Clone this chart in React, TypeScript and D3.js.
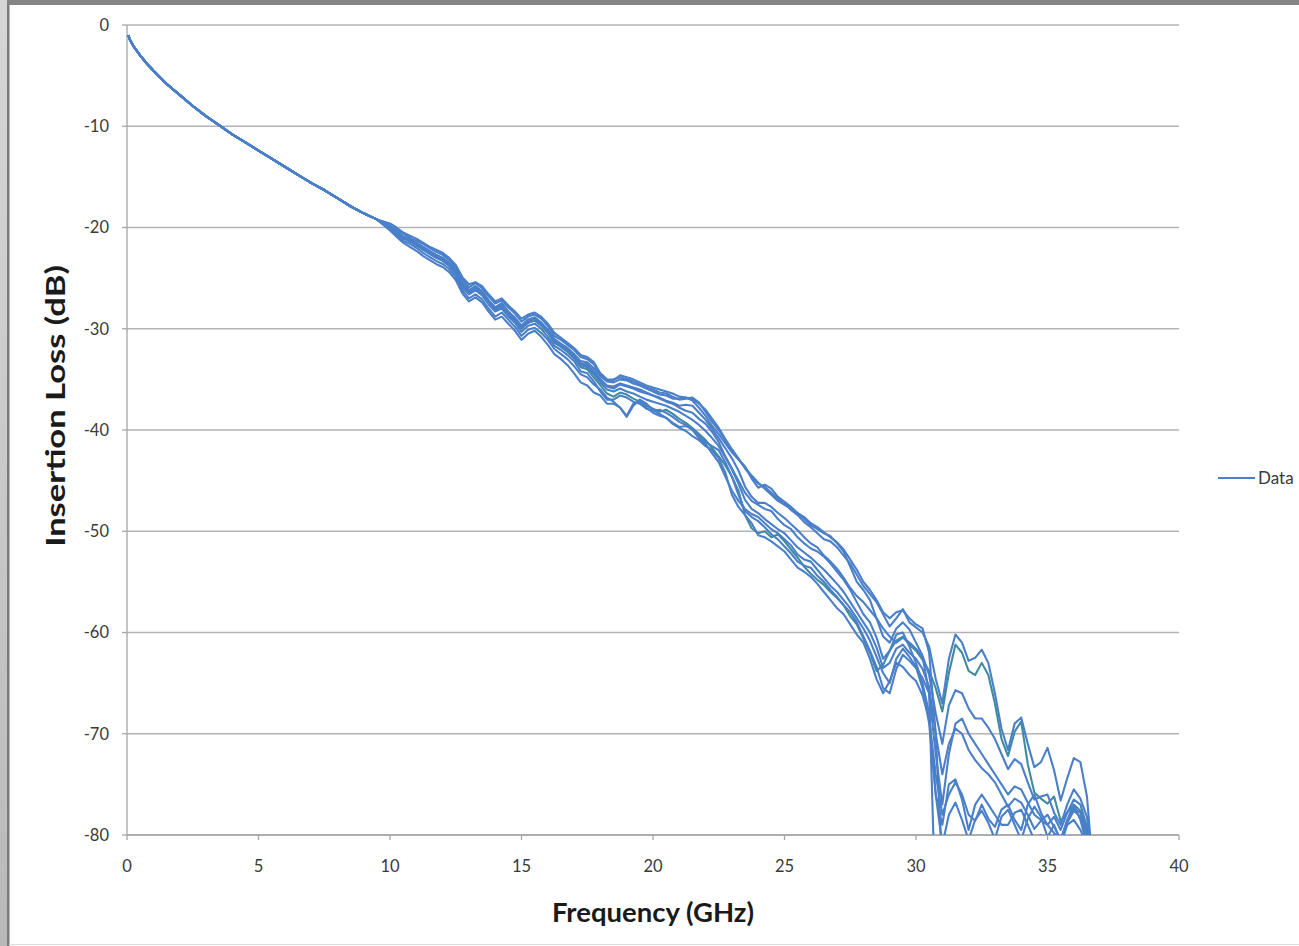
import React from "react";
import * as d3 from "d3";

// ---------- data ----------
const xTicks = [0, 5, 10, 15, 20, 25, 30, 35, 40];
const yTicks = [0, -10, -20, -30, -40, -50, -60, -70, -80];

// shared low-frequency part (all traces coincide)
const lowFreqs = [0.05, 0.1, 0.25, 0.5, 0.75, 1, 1.5, 2, 2.5, 3, 3.5, 4, 4.5, 5, 5.5, 6, 6.5, 7, 7.5, 8, 8.5, 9, 9.25, 9.5];
const lowLoss = [-1.0, -1.4, -2.1, -3.0, -3.8, -4.5, -5.8, -6.9, -8.0, -9.0, -9.9, -10.8, -11.6, -12.4, -13.2, -14.0, -14.8, -15.6, -16.3, -17.1, -17.9, -18.6, -18.9, -19.2];

const hiFreqs = [
  10, 10.25, 10.5, 10.75, 11, 11.25, 11.5, 11.75,
  12, 12.25, 12.5, 12.75, 13, 13.25, 13.5, 13.75,
  14, 14.25, 14.5, 14.75, 15, 15.25, 15.5, 15.75,
  16, 16.25, 16.5, 16.75, 17, 17.25, 17.5, 17.75,
  18, 18.25, 18.5, 18.75, 19, 19.25, 19.5, 19.75,
  20, 20.25, 20.5, 20.75, 21, 21.25, 21.5, 21.75,
  22, 22.25, 22.5, 22.75, 23, 23.25, 23.5, 23.75,
  24, 24.25, 24.5, 24.75, 25, 25.25, 25.5, 25.75,
  26, 26.25, 26.5, 26.75, 27, 27.25, 27.5, 27.75,
  28, 28.25, 28.5, 28.75, 29, 29.25, 29.5, 29.75,
  30, 30.25, 30.5, 30.75, 31, 31.25, 31.5, 31.75,
  32, 32.25, 32.5, 32.75, 33, 33.25, 33.5, 33.75,
  34, 34.25, 34.5, 34.75, 35, 35.25, 35.5, 35.75,
  36, 36.25, 36.5, 36.75,
];

const trace1 = [
  -19.6, -20.0, -20.5, -20.8, -21.1, -21.5, -21.9, -22.2,
  -22.5, -23.0, -23.7, -24.9, -25.6, -25.4, -25.8, -26.6,
  -27.3, -27.0, -27.7, -28.3, -29.0, -28.6, -28.4, -28.8,
  -29.5, -30.4, -30.9, -31.4, -31.9, -32.6, -32.8, -33.3,
  -34.4, -35.0, -35.1, -34.6, -34.8, -35.0, -35.3, -35.6,
  -35.8, -36.0, -36.2, -36.4, -36.7, -36.8, -37.0, -37.4,
  -38.0, -38.9, -39.8, -40.9, -41.9, -42.8, -43.8, -44.6,
  -45.3, -45.6, -46.2, -46.8, -47.2, -47.9, -48.4, -49.1,
  -49.6, -50.2, -50.8, -51.0, -51.6, -52.4, -53.2, -54.3,
  -55.4, -56.2, -57.0, -58.2, -59.4, -58.6, -57.7, -59.0,
  -59.5, -60.0, -61.4, -64.6, -67.0, -62.6, -60.2, -61.0,
  -62.8, -62.5, -61.7, -63.0, -66.0, -69.5, -71.6, -69.0,
  -68.4, -71.0, -73.3, -72.8, -71.4, -73.6, -76.6, -74.4,
  -72.4, -72.8, -76.2, -84.0,
];

const trace2 = [
  -20.0, -20.5, -21.0, -21.3, -21.7, -22.1, -22.5, -22.9,
  -23.2, -23.7, -24.4, -25.7, -26.4, -26.0, -26.5, -27.4,
  -28.2, -27.8, -28.6, -29.2, -30.0, -29.4, -29.2, -29.7,
  -30.4, -31.4, -31.8, -32.3, -32.9, -33.8, -34.0, -34.8,
  -35.6, -36.4, -36.7, -36.3, -36.5, -36.9, -37.2, -37.6,
  -37.9, -38.2, -38.0, -38.4, -38.9, -39.3, -39.8, -40.4,
  -41.0, -41.8, -42.6, -43.5, -44.6, -46.0, -48.4, -49.7,
  -50.2, -50.0, -50.6, -50.3, -51.0, -51.8, -52.6, -53.5,
  -54.2, -54.8, -55.3, -56.0, -56.6, -57.3, -58.4, -59.2,
  -60.6, -62.0, -63.8, -63.2, -61.8, -60.8, -60.4, -61.2,
  -61.8, -62.7, -63.8, -65.5, -67.8, -64.0, -61.2, -62.0,
  -63.8, -64.2, -63.0, -64.2, -67.0, -70.5, -72.2, -69.8,
  -68.8, -73.0, -75.8, -76.4, -76.9, -76.2, -78.6, -77.8,
  -77.0, -77.6, -79.6, -84.0,
];

const trace3 = [
  -19.9, -20.3, -20.9, -21.2, -21.7, -21.9, -22.3, -22.7,
  -23.0, -23.5, -24.2, -25.4, -26.2, -25.8, -26.3, -27.2,
  -27.9, -27.5, -28.3, -28.9, -29.7, -29.1, -28.9, -29.4,
  -30.1, -31.0, -31.5, -31.9, -32.5, -33.2, -33.3, -33.9,
  -34.7, -35.2, -35.3, -35.0, -35.1, -35.4, -35.6, -35.9,
  -36.2, -36.5, -36.6, -36.9, -36.9, -36.8, -37.1, -37.8,
  -38.6, -39.6, -40.4, -41.3, -42.2, -42.9, -43.6, -44.8,
  -45.7, -45.4, -45.8, -46.6, -47.1, -47.6, -48.2, -48.8,
  -49.4, -49.8, -50.2, -50.5, -51.2, -52.0, -53.5, -55.0,
  -55.8, -56.8, -58.6, -60.4, -61.0, -59.6, -59.0, -59.7,
  -61.0, -62.3, -64.2, -68.0, -71.0, -67.2, -65.7, -66.0,
  -67.5, -68.5, -68.5, -69.4, -70.5, -72.0, -73.5, -72.5,
  -73.0, -74.8, -76.5, -76.2, -76.0, -77.8, -79.0, -77.0,
  -75.5, -76.4, -78.2, -84.0,
];

const trace4 = [
  -20.2, -20.7, -21.3, -21.6, -22.0, -22.5, -22.9, -23.3,
  -23.6, -24.1, -24.9, -26.2, -27.0, -26.6, -27.1, -28.0,
  -28.8, -28.4, -29.1, -29.8, -30.7, -30.1, -29.9, -30.4,
  -31.1, -32.0, -32.5, -33.0, -33.7, -34.5, -34.8, -35.5,
  -36.0, -36.8, -37.2, -37.8, -38.6, -37.4, -37.2, -37.8,
  -38.3, -38.6, -38.8, -39.3, -39.7, -39.6, -39.9, -40.6,
  -41.2, -41.6, -42.0, -43.2, -44.6, -46.4, -48.0, -48.6,
  -49.0, -49.6, -50.3, -50.8, -51.5, -52.2, -53.0, -53.4,
  -53.6, -54.4, -55.0, -55.8, -56.5, -57.3, -58.0, -59.0,
  -60.4, -61.8, -63.4, -65.5, -66.0, -63.6, -62.2, -62.8,
  -63.5, -64.5, -66.0, -72.0, -77.0, -72.0, -69.0, -68.5,
  -70.0, -71.0, -72.0, -73.0, -74.0, -75.0, -76.0, -75.2,
  -75.5, -76.8, -78.0, -78.5, -79.0, -79.8, -80.5, -78.5,
  -77.0, -78.5, -81.0, -85.0,
];

const trace5 = [
  -19.9, -20.4, -20.9, -21.1, -21.5, -21.9, -22.3, -22.7,
  -23.0, -23.5, -24.2, -25.5, -26.2, -25.8, -26.3, -27.2,
  -27.9, -27.5, -28.3, -29.2, -29.7, -29.1, -28.9, -29.4,
  -30.1, -31.1, -31.5, -32.0, -32.6, -33.4, -33.5, -34.2,
  -35.0, -35.6, -35.7, -35.4, -35.6, -35.8, -36.0, -36.3,
  -36.6, -36.9, -37.2, -37.4, -37.8, -38.1, -38.3, -38.9,
  -39.4, -40.2, -41.2, -42.6, -43.8, -45.0, -46.2, -47.0,
  -47.4, -47.8, -48.0, -48.8, -49.4, -49.8, -50.6, -51.2,
  -51.7, -52.0, -52.5, -53.2, -54.0, -54.8, -55.8, -57.0,
  -58.2, -59.0, -60.5, -62.6, -61.8, -60.2, -60.0, -61.4,
  -63.0, -65.0, -68.0, -76.0, -79.0, -75.0, -74.5, -76.5,
  -79.5, -77.0, -76.0, -77.0, -78.0, -79.0, -79.0, -77.8,
  -77.5, -79.0, -80.5, -80.0, -81.0, -80.0, -81.0, -79.0,
  -78.5, -79.5, -81.0, -85.0,
];

const trace6 = [
  -20.0, -20.5, -21.0, -21.3, -21.7, -22.1, -22.5, -22.9,
  -23.2, -23.7, -24.4, -25.7, -26.4, -26.1, -26.6, -27.4,
  -28.1, -27.7, -28.5, -29.1, -29.9, -29.3, -29.1, -29.6,
  -30.3, -31.3, -31.7, -32.1, -32.7, -33.5, -33.6, -34.3,
  -35.1, -35.7, -35.9, -35.5, -35.7, -35.9, -36.2, -36.4,
  -36.6, -36.8, -37.1, -37.3, -37.6, -37.5, -37.6, -38.3,
  -39.0, -39.9, -40.8, -41.8, -42.8, -44.0, -45.6, -46.6,
  -47.2, -47.2, -47.6, -48.2, -48.7, -49.3, -49.9, -50.6,
  -51.2, -51.6, -52.4, -53.0, -53.7, -54.6, -55.6, -56.4,
  -57.0, -57.8, -58.6, -59.6, -60.4, -61.0, -60.5, -61.0,
  -61.6, -62.4, -66.0, -88.0, -92.0, -92.0, -92.0, -92.0,
  -92.0, -92.0, -92.0, -92.0, -92.0, -92.0, -92.0, -92.0,
  -92.0, -92.0, -92.0, -92.0, -92.0, -92.0, -92.0, -92.0,
  -92.0, -92.0, -92.0, -92.0,
];

const trace7 = [
  -19.8, -20.2, -20.6, -21.0, -21.3, -21.6, -22.0, -22.4,
  -22.7, -23.2, -24.0, -25.1, -25.9, -25.5, -26.0, -26.8,
  -27.5, -27.2, -27.9, -28.5, -29.3, -28.8, -28.6, -29.0,
  -29.7, -30.7, -31.1, -31.6, -32.1, -32.8, -33.0, -33.5,
  -34.6, -35.1, -35.0, -34.8, -35.0, -35.2, -35.5, -35.8,
  -36.0, -36.3, -36.4, -36.7, -37.0, -36.9, -36.8, -37.3,
  -38.2, -39.2, -40.0, -41.0, -42.1, -42.9, -43.7, -44.5,
  -45.2, -45.8, -46.4, -47.0, -47.4, -47.8, -48.2, -48.6,
  -49.2, -49.6, -50.1, -50.6, -51.1, -51.8, -52.8, -53.8,
  -55.0, -55.8, -56.8, -58.0, -58.6, -58.0, -57.8, -58.6,
  -59.2, -59.6, -62.0, -70.0, -83.0, -90.0, -90.0, -90.0,
  -90.0, -90.0, -90.0, -90.0, -90.0, -90.0, -90.0, -90.0,
  -90.0, -90.0, -90.0, -90.0, -90.0, -90.0, -90.0, -90.0,
  -90.0, -90.0, -90.0, -90.0,
];

const trace8 = [
  -20.3, -20.9, -21.5, -21.9, -22.3, -22.8, -23.2, -23.6,
  -23.9, -24.4, -25.2, -26.5, -27.3, -26.9, -27.4, -28.3,
  -29.1, -28.8, -29.5, -30.2, -31.1, -30.5, -30.2, -30.8,
  -31.6, -32.5, -33.0, -33.6, -34.4, -35.3, -35.6, -36.3,
  -36.6, -37.4, -37.4, -37.8, -38.7, -37.6, -37.0, -37.4,
  -38.0, -38.4, -38.8, -39.4, -39.8, -40.1, -40.6, -41.0,
  -41.6, -42.0, -42.8, -44.2, -46.4, -47.6, -48.4, -49.2,
  -50.4, -50.6, -51.0, -51.5, -52.0, -52.8, -53.6, -54.0,
  -54.5, -55.2, -56.0, -56.8, -57.6, -58.2, -59.2, -60.2,
  -61.0, -62.6, -64.6, -66.0, -64.8, -63.0, -63.4, -64.2,
  -64.8, -66.2, -68.6, -74.0, -78.0, -76.0, -74.8, -76.0,
  -78.0, -78.6, -77.0, -78.4, -79.2, -77.5, -77.0, -78.5,
  -79.5, -77.0, -76.0, -77.8, -79.0, -78.2, -79.5, -77.8,
  -76.5, -77.0, -79.2, -85.0,
];

const trace9 = [
  -20.0, -20.4, -21.0, -21.4, -21.6, -22.0, -22.5, -22.8,
  -23.1, -23.7, -24.3, -25.6, -26.5, -26.0, -26.4, -27.3,
  -28.0, -27.8, -28.4, -29.1, -29.8, -29.4, -29.1, -29.6,
  -30.3, -31.2, -31.7, -32.2, -32.8, -33.6, -33.8, -34.5,
  -35.3, -36.0, -36.2, -35.9, -36.2, -36.4, -36.7, -37.0,
  -37.2, -37.4, -37.6, -37.9, -38.2, -38.6, -39.0, -39.5,
  -40.1, -40.8, -41.6, -42.7, -43.9, -45.3, -46.9, -47.8,
  -48.2, -48.8, -49.3, -49.8, -50.2, -50.9, -51.6, -52.1,
  -52.6, -53.2, -53.8, -54.5, -55.2, -56.0, -57.0, -58.0,
  -59.0, -60.0, -61.5, -63.5, -63.0, -61.6, -61.2, -62.0,
  -62.6, -63.6, -65.4, -70.0, -74.0, -71.0, -69.5, -70.0,
  -71.6, -72.6, -73.4, -74.0, -74.8, -76.0, -77.2, -76.4,
  -76.8, -78.0, -79.4, -78.6, -78.0, -79.2, -80.4, -78.8,
  -77.6, -78.2, -80.5, -85.0,
];

const trace10 = [
  -20.1, -20.6, -21.1, -21.3, -21.8, -22.2, -22.6, -23.0,
  -23.3, -23.8, -24.6, -25.9, -26.6, -26.2, -26.7, -27.6,
  -28.3, -28.0, -28.8, -29.4, -30.3, -29.7, -29.5, -30.0,
  -30.8, -31.7, -32.1, -32.6, -33.2, -34.2, -34.4, -35.2,
  -36.2, -37.0, -37.0, -36.6, -36.8, -37.2, -37.4, -37.9,
  -38.1, -38.0, -38.3, -38.7, -39.2, -39.5, -40.0, -40.8,
  -41.4, -42.3, -43.2, -44.6, -46.0, -47.0, -47.8, -48.3,
  -48.6, -49.2, -49.8, -50.2, -50.8, -51.4, -52.3, -52.8,
  -53.0, -53.8, -54.6, -55.4, -56.0, -56.8, -57.6, -58.6,
  -59.6, -60.8, -62.4, -64.0, -65.0, -62.6, -61.6, -62.4,
  -63.4, -65.5, -69.0, -76.0, -81.0, -78.0, -76.8, -78.5,
  -80.5, -78.5, -77.6, -78.8, -80.4, -78.2, -77.5, -79.0,
  -80.5, -78.4, -77.2, -78.2, -80.2, -79.0, -80.6, -78.6,
  -77.4, -77.8, -80.0, -85.0,
];

const traces = [trace2, trace6, trace7, trace8, trace10, trace5, trace4, trace9, trace3, trace1];
const traceColors = ["#3F8C9E", "#4A7FC9", "#4A7FC9", "#4A7FC9", "#4A7FC9", "#4A7FC9", "#4A7FC9", "#4A7FC9", "#4A7FC9", "#4A7FC9"];

const seriesName = "Data";
const xTitle = "Frequency (GHz)";
const yTitle = "Insertion Loss (dB)";

// ---------- layout ----------
const W = 1299;
const H = 946;
const plot = { left: 127, right: 1179, top: 25, bottom: 835 };
const FONT = "Lato, 'Open Sans', 'Liberation Sans', sans-serif";

export default function App() {
  const x = d3.scaleLinear().domain([0, 40]).range([plot.left, plot.right]);
  const y = d3.scaleLinear().domain([-80, 0]).range([plot.bottom, plot.top]);

  const line = d3
    .line<[number, number]>()
    .x((d) => x(d[0]))
    .y((d) => y(d[1]));

  const paths = traces.map((t) => {
    const pts: [number, number][] = lowFreqs.map((f, i) => [f, lowLoss[i]] as [number, number]);
    const n = Math.min(hiFreqs.length, t.length);
    for (let i = 0; i < n; i++) pts.push([hiFreqs[i], t[i]]);
    return line(pts) || "";
  });

  return (
    <svg
      width={W}
      height={H}
      style={{ position: "absolute", left: 0, top: 0, background: "#fff" }}
      fontFamily={FONT}
    >
      <defs>
        <clipPath id="plotClip">
          <rect x={plot.left} y={plot.top - 5} width={plot.right - plot.left} height={plot.bottom - plot.top + 5} />
        </clipPath>
        <linearGradient id="leftFrame" x1="0" x2="0" y1="0" y2="1">
          <stop offset="0" stopColor="#d6d6d6" />
          <stop offset="0.5" stopColor="#c9c9c9" />
          <stop offset="1" stopColor="#b9b9b9" />
        </linearGradient>
      </defs>
      <rect x={0} y={0} width={W} height={H} fill="#fff" />

      {/* frame */}
      <rect x={0} y={0} width={8} height={H} fill="url(#leftFrame)" />
      <rect x={7} y={0} width={2.5} height={H} fill="#7b7b7b" />
      <rect x={7} y={0} width={W - 7} height={5} fill="#858585" />
      <line x1={9} x2={W} y1={944.5} y2={944.5} stroke="#dcdcdc" strokeWidth={1} />

      {/* gridlines */}
      {yTicks.map((t) => (
        <line key={"g" + t} x1={plot.left} x2={plot.right} y1={y(t)} y2={y(t)} stroke="#b3b3b3" strokeWidth={1.3} />
      ))}
      {/* axes */}
      <line x1={plot.left} x2={plot.left} y1={plot.top} y2={plot.bottom} stroke="#a6a6a6" strokeWidth={1.3} />
      <line x1={plot.left} x2={plot.right} y1={plot.bottom} y2={plot.bottom} stroke="#a6a6a6" strokeWidth={1.3} />
      {yTicks.map((t) => (
        <line key={"yt" + t} x1={plot.left - 5} x2={plot.left} y1={y(t)} y2={y(t)} stroke="#a6a6a6" strokeWidth={1.3} />
      ))}
      {xTicks.map((t) => (
        <line key={"xt" + t} x1={x(t)} x2={x(t)} y1={plot.bottom} y2={plot.bottom + 5} stroke="#a6a6a6" strokeWidth={1.3} />
      ))}

      {/* data */}
      <g clipPath="url(#plotClip)">
        {paths.map((d, i) => (
          <path key={i} d={d} fill="none" stroke={traceColors[i]} strokeWidth={2.1} strokeLinejoin="round" />
        ))}
      </g>

      {/* tick labels */}
      {yTicks.map((t) => (
        <text key={"yl" + t} x={109} y={y(t)} dy="0.35em" textAnchor="end" fontSize={16.5} fill="#3a3a3a">
          {t}
        </text>
      ))}
      {xTicks.map((t) => (
        <text key={"xl" + t} x={x(t)} y={866} dy="0.35em" textAnchor="middle" fontSize={16.5} fill="#3a3a3a">
          {t}
        </text>
      ))}

      {/* titles */}
      <text x={653} y={912} dy="0.35em" textAnchor="middle" fontSize={27.5} fontWeight="bold" fill="#1a1a1a">
        {xTitle}
      </text>
      <text
        transform={`translate(56, 406) rotate(-90) scale(1.28, 1)`}
        dy="0.35em"
        textAnchor="middle"
        fontSize={27}
        fontWeight="bold"
        fill="#1a1a1a"
      >
        {yTitle}
      </text>

      {/* legend */}
      <line x1={1218} x2={1255} y1={478} y2={478} stroke="#4A7FC9" strokeWidth={2.1} />
      <text x={1258} y={478} dy="0.35em" fontSize={17} fill="#3a3a3a">
        {seriesName}
      </text>
    </svg>
  );
}
